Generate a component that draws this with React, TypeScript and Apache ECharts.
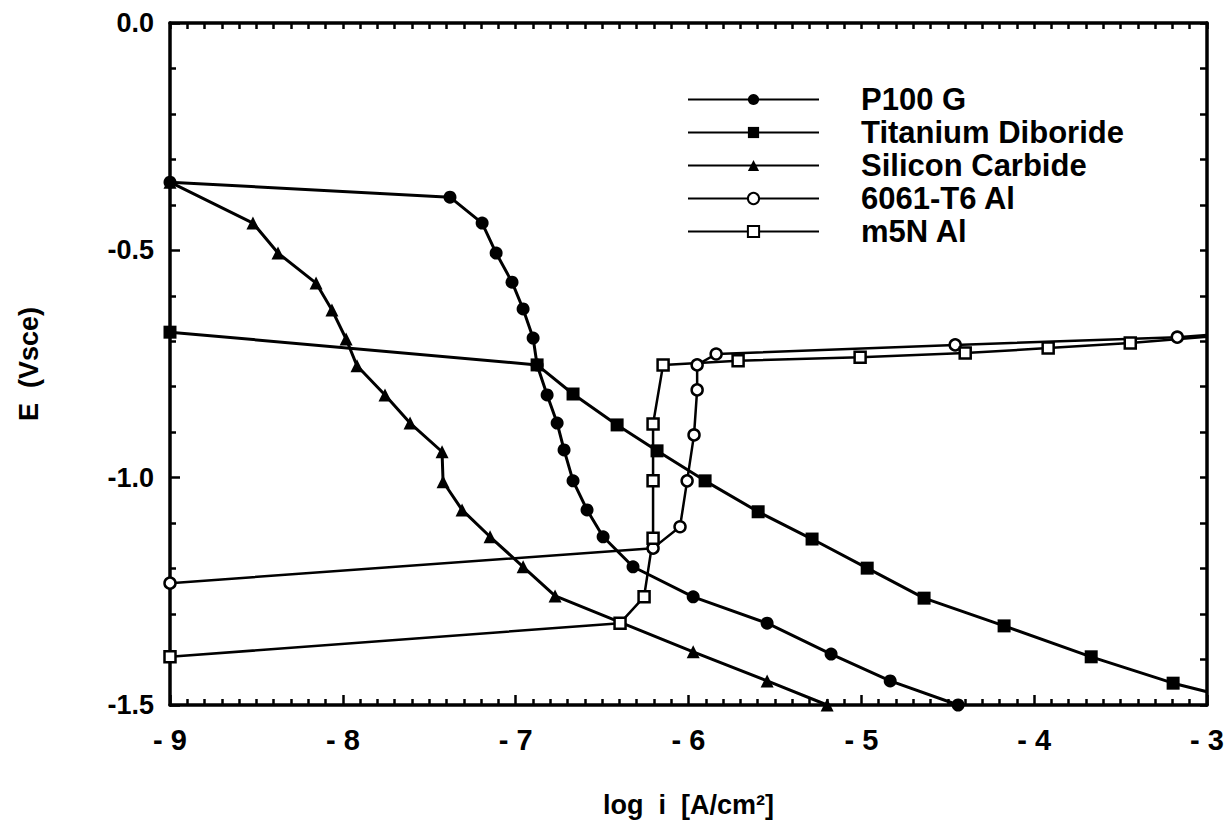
import React, { useEffect, useRef } from "react";
import * as echarts from "echarts";

const seriesNames = ["P100 G", "Titanium Diboride", "Silicon Carbide", "6061-T6 Al", "m5N Al"];

// log i, E (Vsce)
const p100X = [-9.0, -7.38, -7.194, -7.113, -7.021, -6.957, -6.899, -6.876, -6.818, -6.76, -6.72, -6.668, -6.587, -6.494, -6.321, -5.973, -5.545, -5.175, -4.833, -4.44];
const p100Y = [-0.35, -0.383, -0.44, -0.506, -0.57, -0.629, -0.693, -0.752, -0.818, -0.88, -0.939, -1.007, -1.071, -1.13, -1.196, -1.262, -1.32, -1.388, -1.447, -1.5];

const tib2X = [-9.0, -6.876, -6.668, -6.413, -6.182, -5.904, -5.597, -5.285, -4.966, -4.637, -4.174, -3.67, -3.196, -3.0];
const tib2Y = [-0.68, -0.752, -0.816, -0.884, -0.941, -1.007, -1.075, -1.135, -1.199, -1.265, -1.326, -1.394, -1.452, -1.471];

const sicX = [-9.0, -8.52, -8.375, -8.155, -8.063, -7.981, -7.918, -7.756, -7.611, -7.426, -7.42, -7.31, -7.148, -6.957, -6.772, -5.973, -5.545, -5.198];
const sicY = [-0.35, -0.44, -0.506, -0.572, -0.631, -0.695, -0.754, -0.818, -0.88, -0.943, -1.009, -1.071, -1.13, -1.196, -1.26, -1.383, -1.447, -1.5];

const al6061X = [-9.0, -6.205, -6.049, -6.008, -5.968, -5.95, -5.95, -5.84, -4.457, -3.172, -3.0];
const al6061Y = [-1.232, -1.155, -1.108, -1.007, -0.906, -0.807, -0.752, -0.728, -0.708, -0.691, -0.686];

const m5nX = [-9.0, -6.396, -6.257, -6.205, -6.205, -6.205, -6.147, -5.713, -5.007, -4.399, -3.919, -3.444, -3.0];
const m5nY = [-1.394, -1.32, -1.262, -1.133, -1.007, -0.882, -0.752, -0.743, -0.735, -0.726, -0.715, -0.704, -0.69];

const FONT = "'Liberation Sans', Arial, Helvetica, sans-serif";

function pts(xs: number[], ys: number[], lastBare: boolean) {
  return xs.map((x, i) =>
    lastBare && i === xs.length - 1
      ? { value: [x, ys[i]], symbol: "none" }
      : { value: [x, ys[i]] }
  );
}

export default function App() {
  const ref = useRef<HTMLDivElement>(null);
  useEffect(() => {
    if (!ref.current) return;
    const chart = echarts.init(ref.current, undefined, { renderer: "svg" });
    const filled = { color: "#000", borderColor: "#000", borderWidth: 0 };
    const open = { color: "#fff", borderColor: "#000", borderWidth: 2.5 };
    const mk = (name: string, data: any[], symbol: string, size: number, itemStyle: any, width = 3) => ({
      name,
      type: "line",
      data,
      symbol,
      symbolSize: size,
      showAllSymbol: true,
      lineStyle: { color: "#000", width },
      itemStyle,
      emphasis: { disabled: true },
      z: 3,
    });
    const axisCommon = {
      type: "value",
      axisLine: { show: true, onZero: false, lineStyle: { color: "#000", width: 3.5 } },
      splitLine: { show: false },
    };
    const tickStyle = { color: "#000", width: 2.5 };
    chart.setOption({
      animation: false,
      backgroundColor: "#fff",
      grid: { left: 170, right: 21, top: 23, bottom: 119, containLabel: false },
      legend: {
        left: 687,
        top: 83,
        orient: "vertical",
        padding: 0,
        itemGap: 0,
        itemWidth: 131,
        itemHeight: 14,
        data: seriesNames,
        textStyle: {
          fontFamily: FONT,
          fontWeight: "bold",
          fontSize: 31,
          color: "#000",
          lineHeight: 33,
          padding: [0, 0, 0, 37],
        },
      },
      xAxis: [
        {
          ...axisCommon,
          position: "bottom",
          min: -9,
          max: -3,
          interval: 1,
          axisTick: { show: true, inside: true, length: 10, lineStyle: tickStyle },
          minorTick: { show: true, splitNumber: 10, length: 6, lineStyle: tickStyle },
          axisLabel: {
            margin: 20,
            fontFamily: FONT,
            fontWeight: "bold",
            fontSize: 29,
            color: "#000",
            formatter: (v: number) => (v < 0 ? "- " + Math.abs(v) : String(v)),
          },
          name: "log  i  [A/cm\u00B2]",
          nameLocation: "middle",
          nameGap: 86,
          nameTextStyle: { fontFamily: FONT, fontWeight: "bold", fontSize: 27, color: "#000" },
        },
        {
          ...axisCommon,
          position: "top",
          min: -9,
          max: -3,
          interval: 1,
          axisTick: { show: true, inside: true, length: 6, lineStyle: tickStyle },
          minorTick: { show: true, splitNumber: 10, length: 6, lineStyle: tickStyle },
          axisLabel: { show: false },
        },
      ],
      yAxis: [
        {
          ...axisCommon,
          position: "left",
          min: -1.5,
          max: 0,
          interval: 0.5,
          axisTick: { show: true, inside: true, length: 10, lineStyle: tickStyle },
          minorTick: { show: true, splitNumber: 5, length: 6, lineStyle: tickStyle },
          axisLabel: {
            margin: 16,
            fontFamily: FONT,
            fontWeight: "bold",
            fontSize: 27,
            color: "#000",
            formatter: (v: number) => (Math.abs(v) < 1e-9 ? "0.0" : v.toFixed(1)),
          },
          name: "E  (Vsce)",
          nameLocation: "middle",
          nameGap: 128,
          nameRotate: 90,
          nameTextStyle: { fontFamily: FONT, fontWeight: "bold", fontSize: 27, color: "#000" },
        },
        {
          ...axisCommon,
          position: "right",
          min: -1.5,
          max: 0,
          interval: 0.5,
          axisTick: { show: true, inside: true, length: 7, lineStyle: tickStyle },
          minorTick: { show: true, splitNumber: 5, length: 7, lineStyle: tickStyle },
          axisLabel: { show: false },
        },
      ],
      series: [
        mk(seriesNames[0], pts(p100X, p100Y, false), "circle", 13, filled),
        mk(seriesNames[1], pts(tib2X, tib2Y, true), "rect", 13, filled),
        mk(seriesNames[2], pts(sicX, sicY, false), "triangle", 13, filled),
        mk(seriesNames[3], pts(al6061X, al6061Y, true), "circle", 11, open, 2.5),
        mk(seriesNames[4], pts(m5nX, m5nY, true), "rect", 11, open, 2.5),
      ],
    });
    return () => chart.dispose();
  }, []);
  return (
    <div
      ref={ref}
      style={{ position: "fixed", left: 0, top: 0, width: 1228, height: 824, background: "#fff" }}
    />
  );
}
